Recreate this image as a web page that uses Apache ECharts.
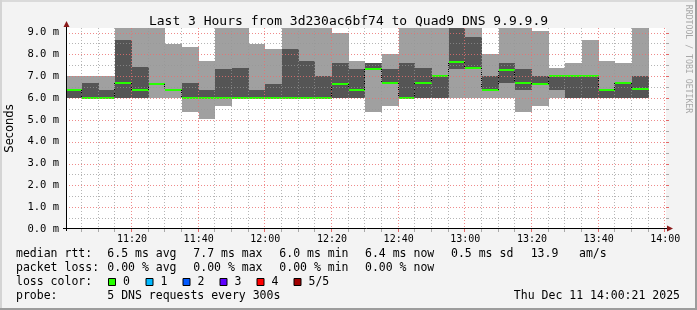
<!DOCTYPE html>
<html><head><meta charset="utf-8">
<script src="https://cdn.jsdelivr.net/npm/echarts@6/dist/echarts.min.js"></script>
<style>html,body{margin:0;padding:0;background:#f3f3f3}#c{width:697px;height:310px}</style>
</head><body><div id="c"></div>
<script>
// 5-minute bins (start time of each bin)
const binTimes = ['11:00','11:05','11:10','11:15','11:20','11:25','11:30','11:35','11:40','11:45','11:50','11:55',
  '12:00','12:05','12:10','12:15','12:20','12:25','12:30','12:35','12:40','12:45','12:50','12:55',
  '13:00','13:05','13:10','13:15','13:20','13:25','13:30','13:35','13:40','13:45','13:50'];
// sorted ping RTTs per bin (ms): lowest, 2nd, median, 4th, highest
const pingMin  = [6.0,6.0,6.0,6.0,6.0,6.0,6.0,5.34,5.05,5.65,6.0,6.0,6.0,6.0,6.0,6.0,6.0,6.0,5.34,5.65,6.0,6.0,6.0,6.0,6.0,6.0,6.0,5.34,5.65,6.0,6.0,6.0,6.0,6.0,6.0];
const pingLow  = [6.0,6.0,6.0,6.0,6.0,6.65,6.35,6.0,6.0,6.0,6.0,6.0,6.0,6.0,6.0,6.0,6.0,6.0,7.35,6.67,6.0,6.0,6.0,7.35,7.4,6.35,6.67,6.35,6.65,6.35,6.0,6.0,6.0,6.0,6.0];
const median   = [6.36,6.0,6.0,6.67,6.35,6.65,6.35,6.0,6.0,6.0,6.0,6.0,6.0,6.0,6.0,6.0,6.65,6.35,7.35,6.67,6.0,6.67,7.0,7.66,7.4,6.35,7.3,6.7,6.65,7.0,7.0,7.0,6.35,6.67,6.42];
const pingHigh = [6.36,6.7,6.36,8.65,7.43,6.65,6.35,6.7,6.36,7.35,7.4,6.36,6.65,8.24,7.72,7.0,7.6,7.35,7.62,7.35,7.62,7.4,7.0,9.6,8.78,7.0,7.62,7.35,7.0,7.0,7.0,7.0,6.35,6.67,7.0];
const pingMax  = [7.0,7.0,7.0,9.6,9.6,9.6,8.46,8.35,7.72,9.6,9.6,8.46,8.24,9.6,9.6,9.6,8.98,7.72,7.62,8.0,9.6,9.6,9.6,9.6,9.6,8.0,9.6,9.6,9.06,7.4,7.62,8.66,7.72,7.62,9.6];
// axis ticks
const xTickLabels = ['11:20','11:40','12:00','12:20','12:40','13:00','13:20','13:40','14:00'];
const yTickValues = [0,1,2,3,4,5,6,7,8,9];
const lossColors = ['#26ff00','#00b8ff','#0059ff','#5e00ff','#ff0000','#a00000'];
const lossLabels = ['0','1','2','3','4','5/5'];

const toMin = s => { const [h,m] = s.split(':').map(Number); return (h-11)*60+m; };
const binMin = binTimes.map(toMin);
const xTickMin = xTickLabels.map(toMin);
const BIN = 5;
const X0 = 0.2, X1 = 180.2, Y0 = 0, Y1 = 9.21;

const smokeRows = binMin.map((t,i)=>[t,pingMin[i],pingLow[i],median[i],pingHigh[i],pingMax[i], i>0?median[i-1]:-1]);

const gridRows = [];
for (let m = 5; m <= 180; m += 5) gridRows.push([0, m, m % 20 === 0 ? 1 : 0]);
for (let v = 0.5; v <= 9; v += 0.5) gridRows.push([1, v, Number.isInteger(v) ? 1 : 0]);

const chart = echarts.init(document.getElementById('c'), null, {renderer:'canvas'});
const MONO = '"DejaVu Sans Mono", monospace';

function clip(r, cs){
  return echarts.graphic.clipRectByRect(r, {x:cs.x, y:cs.y, width:cs.width, height:cs.height});
}
function renderSmoke(params, api){
  const cs = params.coordSys;
  const t0 = api.value(0);
  const xa = Math.round(api.coord([t0, 0])[0]);
  const xb = Math.round(api.coord([t0 + BIN, 0])[0]);
  const children = [];
  const band = (lo, hi, color) => {
    const ya = Math.round(api.coord([t0, lo])[1]);
    const yb = Math.round(api.coord([t0, hi])[1]);
    const r = clip({x:xa, y:yb, width:xb-xa, height:ya-yb}, cs);
    if (r && r.height > 0) children.push({type:'rect', shape:r, style:{fill:color}});
  };
  band(api.value(1), api.value(5), '#a0a0a0');
  band(api.value(2), api.value(4), '#555555');
  const ym = Math.round(api.coord([t0, api.value(3)])[1]);
  const prev = api.value(6);
  if (prev > 0 && prev !== api.value(3)) {
    const yp = Math.round(api.coord([t0, prev])[1]);
    children.push({type:'line', shape:{x1:xa-0.5, y1:yp, x2:xa-0.5, y2:ym},
      style:{stroke:'#000', lineWidth:1, lineDash:[1,1]}});
  }
  const r = clip({x:xa, y:ym-1, width:xb-xa, height:2}, cs);
  if (r) children.push({type:'rect', shape:r, style:{fill:'#26ff00'}});
  return {type:'group', children};
}
function renderGrid(params, api){
  const cs = params.coordSys;
  const major = api.value(2) === 1;
  const col = major ? 'rgba(235,110,110,0.8)' : 'rgba(150,150,150,0.7)';
  const tickCol = major ? 'rgba(225,90,90,0.9)' : 'rgba(150,150,150,0.8)';
  const style = {stroke: col, lineWidth:1, lineDash:[1,2]};
  if (api.value(0) === 0) {
    const x = Math.round(api.coord([api.value(1), 0])[0]) - 0.5;
    if (x < cs.x + 1 || x > cs.x + cs.width + 1) return null;
    const yb = cs.y + cs.height;
    return {type:'group', children:[
      {type:'line', shape:{x1:x, y1:cs.y, x2:x, y2:yb}, style},
      {type:'line', shape:{x1:x, y1:yb, x2:x, y2:yb+3}, style:{stroke:tickCol, lineWidth:1}}
    ]};
  }
  const y = Math.round(api.coord([X0, api.value(1)])[1]) + 0.5;
  const xr = cs.x + cs.width;
  return {type:'group', children:[
    {type:'line', shape:{x1:cs.x, y1:y, x2:xr, y2:y}, style},
    {type:'line', shape:{x1:xr, y1:y, x2:xr+3, y2:y}, style:{stroke:tickCol, lineWidth:1}}
  ]};
}

const txt = (text, x, y, extra) => Object.assign({type:'text', z:10, style:Object.assign({text, x, y,
  font:'11.5px ' + MONO, fill:'#000', verticalAlign:'middle', align:'left'}, extra||{})});

const graphics = [
  {type:'rect', shape:{x:0,y:0,width:697,height:2}, style:{fill:'#dadada'}},
  {type:'rect', shape:{x:0,y:0,width:2,height:310}, style:{fill:'#d4d4d4'}},
  {type:'rect', shape:{x:695,y:0,width:2,height:310}, style:{fill:'#9c9c9c'}},
  {type:'rect', shape:{x:0,y:308,width:697,height:2}, style:{fill:'#9c9c9c'}},
  {type:'text', z:10, x:688, y:59, rotation:-Math.PI/2, style:{text:'RRDTOOL / TOBI OETIKER', x:0, y:0,
    font:'8.2px ' + MONO, fill:'#a8a8a8', align:'center', verticalAlign:'middle'}},
  // axis lines & arrows
  {type:'line', z:10, shape:{x1:63, y1:228.5, x2:670, y2:228.5}, style:{stroke:'#000', lineWidth:1}},
  {type:'polygon', z:10, shape:{points:[[667,225.5],[673,228.5],[667,231.5]]}, style:{fill:'#8b1a1a'}},
  {type:'line', z:10, shape:{x1:66.5, y1:231, x2:66.5, y2:24}, style:{stroke:'#000', lineWidth:1}},
  {type:'polygon', z:10, shape:{points:[[63.5,27],[66.5,21],[69.5,27]]}, style:{fill:'#8b1a1a'}},
  txt('median rtt:', 16, 254), txt('6.5 ms avg', 107.3, 254), txt('7.7 ms max', 193.3, 254),
  txt('6.0 ms min', 279.3, 254), txt('6.4 ms now', 365, 254), txt('0.5 ms sd', 451, 254),
  txt('13.9', 530.7, 254), txt('am/s', 579, 254),
  txt('packet loss:', 16, 268), txt('0.00 % avg', 107.3, 268), txt('0.00 % max', 193.3, 268),
  txt('0.00 % min', 279.3, 268), txt('0.00 % now', 365, 268),
  txt('loss color:', 16, 282),
  txt('probe:', 16, 296), txt('5 DNS requests every 300s', 107.3, 296),
  txt('Thu Dec 11 14:00:21 2025', 680, 296, {align:'right'})
];
const boxX = [108, 145.5, 182.5, 219.5, 256.5, 293.5];
lossColors.forEach((c,i)=>{
  graphics.push({type:'rect', z:10, shape:{x:boxX[i]+0.5, y:278.5, width:7, height:7}, style:{fill:c, stroke:'#000', lineWidth:1}});
  graphics.push(txt(lossLabels[i], boxX[i]+15, 282));
});

chart.setOption({
  animation:false,
  backgroundColor:'#f3f3f3',
  title:{text:'Last 3 Hours from 3d230ac6bf74 to Quad9 DNS 9.9.9.9', left:'center', top:10,
    textStyle:{fontFamily:MONO, fontSize:13, fontWeight:'normal', color:'#000'}},
  grid:{left:66, top:28, width:600, height:201, backgroundColor:'#ffffff', show:true, borderWidth:0,
    outerBoundsMode:'none', containLabel:false},
  xAxis:{type:'value', min:X0, max:X1,
    axisLine:{show:false}, splitLine:{show:false}, axisTick:{show:false},
    axisLabel:{customValues:xTickMin, formatter:v=>xTickLabels[xTickMin.indexOf(Math.round(v))]||'',
      fontFamily:MONO, fontSize:10, color:'#000', margin:5}},
  yAxis:{type:'value', min:Y0, max:Y1,
    name:'Seconds', nameLocation:'middle', nameRotate:90, nameGap:47,
    nameTextStyle:{fontFamily:'"DejaVu Sans", sans-serif', fontSize:11.5, color:'#000'},
    axisLine:{show:false}, splitLine:{show:false}, axisTick:{show:false},
    axisLabel:{customValues:yTickValues, formatter:v=>v.toFixed(1)+' m',
      fontFamily:MONO, fontSize:10.5, color:'#000', margin:7}},
  graphic:graphics,
  series:[
    {type:'custom', name:'smoke', z:2, renderItem:renderSmoke, data:smokeRows, silent:true},
    {type:'custom', name:'grid', z:3, renderItem:renderGrid, data:gridRows, silent:true}
  ]
});
</script></body></html>
